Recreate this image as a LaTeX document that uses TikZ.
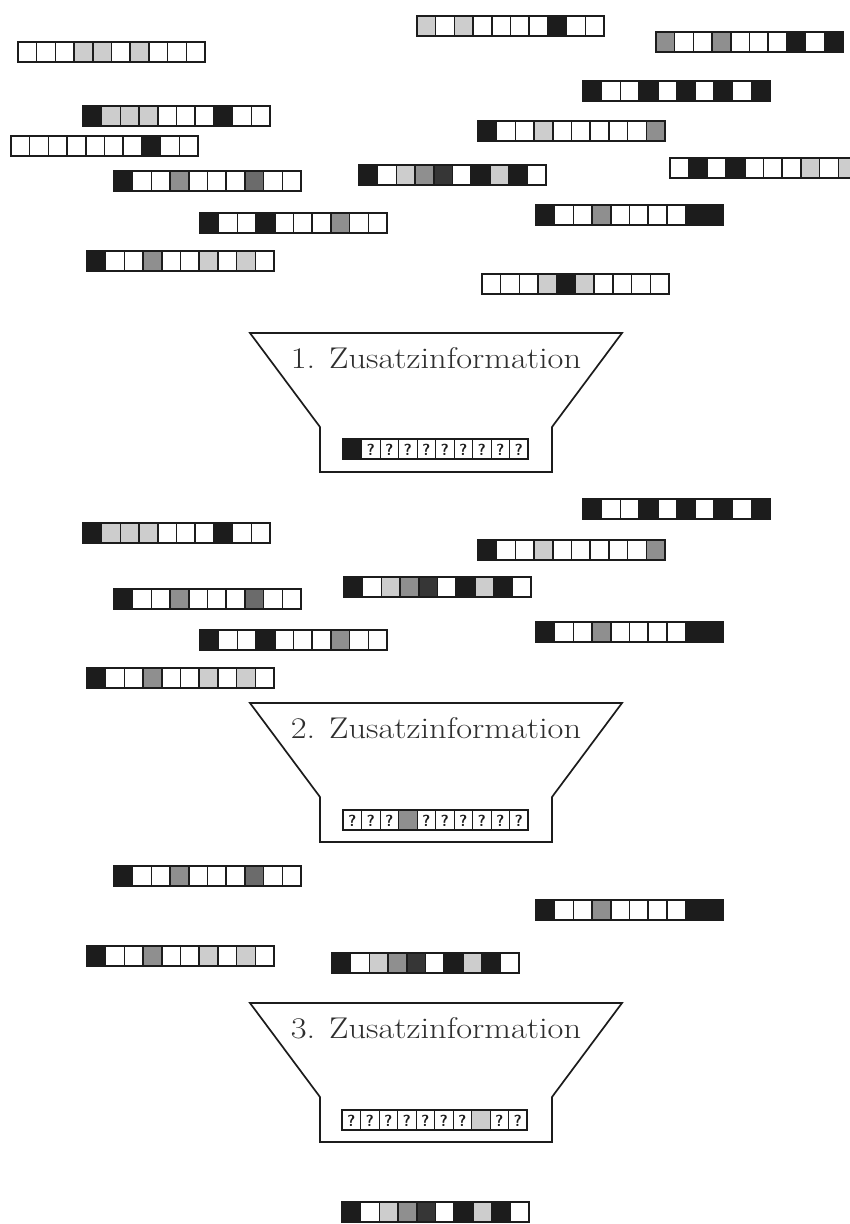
\documentclass[tikz,border=0pt]{standalone}
\usepackage{tikz}
\usepackage{graphicx}
\definecolor{cK}{HTML}{1C1C1C}
\definecolor{cW}{HTML}{FFFFFF}
\definecolor{cL}{HTML}{CDCDCD}
\definecolor{cM}{HTML}{8F8F8F}
\definecolor{cD}{HTML}{6B6B6B}
\definecolor{cV}{HTML}{363636}
\definecolor{cT}{HTML}{2E2E2E}
\tikzset{
  cellline/.style={draw=cK, line width=1.5pt},
  stripframe/.style={draw=cK, line width=2pt},
  qline/.style={draw=cK, line width=0.8pt},
  qframe/.style={draw=cK, line width=1.2pt},
  funnelline/.style={draw=cK, line width=1.7pt, line join=miter},
  funneltext/.style={anchor=base, text=cT, font=\fontsize{30}{30}\selectfont, inner sep=0pt},
  qmark/.style={font=\fontsize{16}{16}\selectfont\sffamily\bfseries, inner sep=0pt, text=cK},
}
% strip: x, y (top), list of colour letters
\newcommand\bitstrip[3]{%
  \foreach \cc [count=\ii from 0] in {#3}{
    \fill[c\cc] ({#1+\ii*18.7},{#2}) rectangle ++(18.7,20);
  }
  \foreach \ii in {1,...,9}{
    \draw[cellline] ({#1+\ii*18.7},{#2}) -- ++(0,20);
  }
  \draw[stripframe] (#1,#2) rectangle ++(187,20);
}
% question strip: name, x, y, special index, special colour
\newcommand\qstrip[5]{%
  \foreach \ii in {0,...,9}{
    \ifnum\ii=#4\relax
      \fill[#5] ({#2+\ii*18.5},{#3}) rectangle ++(18.5,20);
    \else
      \node[qmark] (#1-\ii) at ({#2+\ii*18.5+9.25},{#3+10.5}) {?};
    \fi
  }
  \foreach \ii in {1,...,9}{
    \draw[qline] ({#2+\ii*18.5},{#3}) -- ++(0,20);
  }
  \draw[qframe] (#2,#3) rectangle ++(185,20);
}
% funnel: name, top y, text
\newcommand\funnel[3]{%
  \draw[funnelline] (250,#2) -- (622,#2) -- (552,{#2+94}) -- (552,{#2+139})
     -- (320,{#2+139}) -- (320,{#2+94}) -- cycle;
  \node[funneltext] (#1) at (436,{#2+35}) {\scalebox{1.15}[1]{#3}};
}
\begin{document}
\begin{tikzpicture}[x=1pt,y=-1pt]
\useasboundingbox (0,0) rectangle (850,1224);
\clip (0,0) rectangle (850,1224);
% ---- section 1
\bitstrip{18}{42}{W,W,W,L,L,W,L,W,W,W}
\bitstrip{83}{106}{K,L,L,L,W,W,W,K,W,W}
\bitstrip{11}{136}{W,W,W,W,W,W,W,K,W,W}
\bitstrip{417}{16}{L,W,L,W,W,W,W,K,W,W}
\bitstrip{656}{32}{M,W,W,M,W,W,W,K,W,K}
\bitstrip{583}{81}{K,W,W,K,W,K,W,K,W,K}
\bitstrip{478}{121}{K,W,W,L,W,W,W,W,W,M}
\bitstrip{114}{171}{K,W,W,M,W,W,W,D,W,W}
\bitstrip{200}{213}{K,W,W,K,W,W,W,M,W,W}
\bitstrip{87}{251}{K,W,W,M,W,W,L,W,L,W}
\bitstrip{359}{165}{K,W,L,M,V,W,K,L,K,W}
\bitstrip{670}{158}{W,K,W,K,W,W,W,L,W,L}
\bitstrip{536}{205}{K,W,W,M,W,W,W,W,K,K}
\bitstrip{482}{274}{W,W,W,L,K,L,W,W,W,W}
\funnel{f1}{333}{1. Zusatzinformation}
\qstrip{q1}{343}{439}{0}{cK}
% ---- section 2
\bitstrip{83}{523}{K,L,L,L,W,W,W,K,W,W}
\bitstrip{114}{589}{K,W,W,M,W,W,W,D,W,W}
\bitstrip{200}{630}{K,W,W,K,W,W,W,M,W,W}
\bitstrip{87}{668}{K,W,W,M,W,W,L,W,L,W}
\bitstrip{583}{499}{K,W,W,K,W,K,W,K,W,K}
\bitstrip{478}{540}{K,W,W,L,W,W,W,W,W,M}
\bitstrip{344}{577}{K,W,L,M,V,W,K,L,K,W}
\bitstrip{536}{622}{K,W,W,M,W,W,W,W,K,K}
\funnel{f2}{703}{2. Zusatzinformation}
\qstrip{q2}{343}{810}{3}{cM}
% ---- section 3
\bitstrip{114}{866}{K,W,W,M,W,W,W,D,W,W}
\bitstrip{536}{900}{K,W,W,M,W,W,W,W,K,K}
\bitstrip{87}{946}{K,W,W,M,W,W,L,W,L,W}
\bitstrip{332}{953}{K,W,L,M,V,W,K,L,K,W}
\funnel{f3}{1003}{3. Zusatzinformation}
\qstrip{q3}{342}{1110}{7}{cL}
% ---- result
\bitstrip{342}{1202}{K,W,L,M,V,W,K,L,K,W}
\end{tikzpicture}
\end{document}
